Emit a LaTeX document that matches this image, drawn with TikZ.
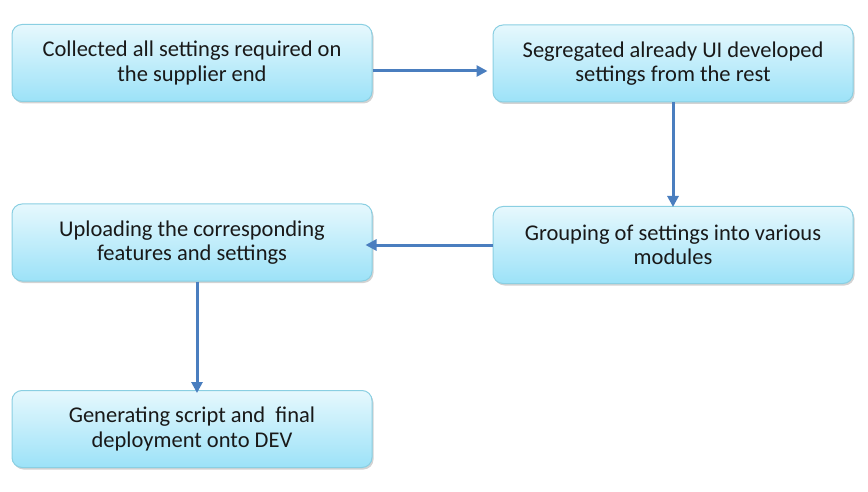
\documentclass[tikz,border=0pt]{standalone}
\usepackage{fontspec}
\setmainfont{Carlito}
\usetikzlibrary{shadows,arrows.meta}
\definecolor{boxtop}{HTML}{E6F8FD}
\definecolor{boxbot}{HTML}{9CE2F8}
\definecolor{boxline}{HTML}{8ACFE2}
\definecolor{arrowc}{HTML}{4A7EBF}
\tikzset{
  stepbox/.style={draw=boxline, line width=1pt, rounded corners=10pt,
    top color=boxtop, bottom color=boxbot,
    minimum width=360pt, minimum height=77pt, align=center,
    font=\fontsize{22.5}{24.5}\selectfont, text=black!90,
    drop shadow={shadow xshift=1.5pt, shadow yshift=-2pt, opacity=0.35, fill=gray}},
  flow/.style={draw=arrowc, line width=3pt, -{Triangle[length=11pt,width=11pt]}}
}
\begin{document}
\begin{tikzpicture}[x=1pt,y=-1pt]
\useasboundingbox (0,0) rectangle (868,492);
\node[stepbox] (a) at (192,63) {Collected all settings required on\\the supplier end};
\node[stepbox] (b) at (673,63.5) {Segregated already UI developed\\settings from the rest};
\node[stepbox] (c) at (673,245) {Grouping of settings into various\\modules};
\node[stepbox] (d) at (192,242.5) {Uploading the corresponding\\features and settings};
\node[stepbox] (e) at (192,429) {Generating script and~ final\\deployment onto DEV};
\draw[flow] ([yshift=-8pt]a.east) -- ([xshift=-5pt,yshift=-8pt]a.east -| b.west);
\draw[flow] (b.south) -- ([yshift=-1pt]c.north);
\draw[flow] (c.west) -- ([xshift=-7pt]c.west -| d.east);
\draw[flow] ([xshift=5pt]d.south) -- ([xshift=5pt,yshift=-3pt]e.north);
\end{tikzpicture}
\end{document}
